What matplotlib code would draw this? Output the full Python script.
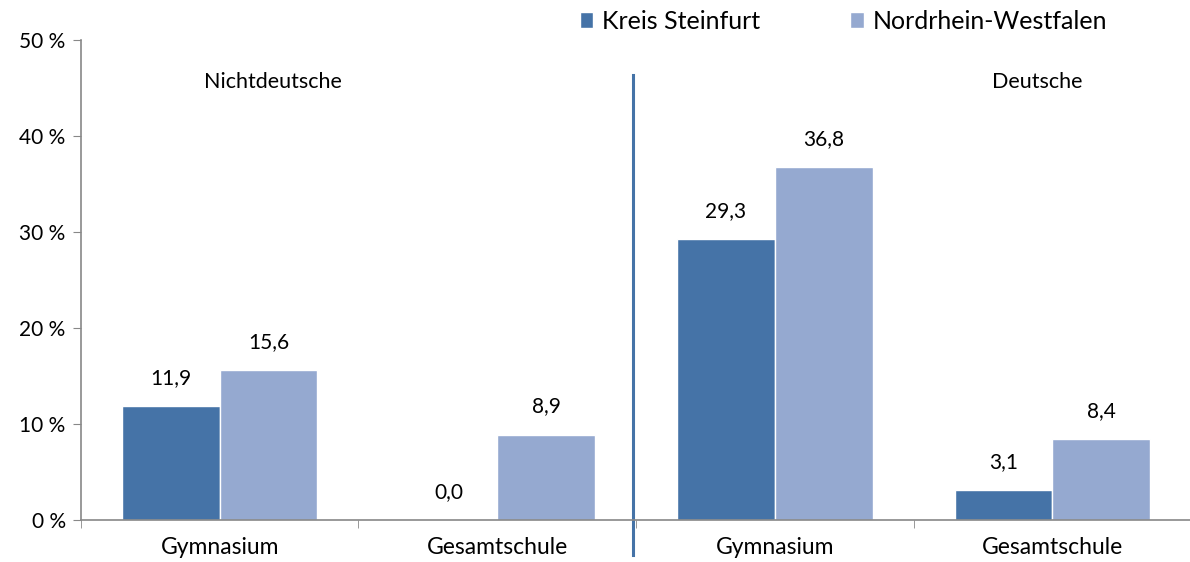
import numpy as np
import matplotlib.pyplot as plt
from matplotlib.lines import Line2D

plt.rcParams['font.family'] = ['Lato', 'DejaVu Sans']

categories = ['Gymnasium', 'Gesamtschule', 'Gymnasium', 'Gesamtschule']
kreis = [11.9, 0.0, 29.3, 3.1]
nrw = [15.6, 8.9, 36.8, 8.4]
series_names = ['Kreis Steinfurt', 'Nordrhein-Westfalen']
groups = ['Nichtdeutsche', 'Deutsche']
yticks = [0, 10, 20, 30, 40, 50]

c_dark = '#4573A7'
c_light = '#95A9D0'

fig = plt.figure(figsize=(11.9, 5.62), dpi=100)
ax = fig.add_axes([0.068, 0.0747, 0.933, 0.8541])

x = np.arange(len(categories))
w = 0.352
b1 = ax.bar(x - w / 2, kreis, w, color=c_dark, edgecolor='white', linewidth=1)
b2 = ax.bar(x + w / 2, nrw, w, color=c_light, edgecolor='white', linewidth=1)

for bars, vals in [(b1, kreis), (b2, nrw)]:
    for b, v in zip(bars, vals):
        ax.annotate(f'{v:.1f}'.replace('.', ','), (b.get_x() + b.get_width() / 2, v),
                    xytext=(0, 13), textcoords='offset points',
                    ha='center', va='bottom', fontsize=15)

ax.set_xlim(-0.5, 3.5)
ax.set_ylim(0, 50)
ax.set_yticks(yticks)
ax.set_yticklabels([f'{t} %' for t in yticks], fontsize=15)
ax.set_xticks(x)
ax.set_xticklabels(categories, fontsize=16.5)
ax.tick_params(axis='x', length=0, pad=12)
ax.tick_params(axis='y', length=6, color='#888888', pad=5)

# small ticks at the category borders
ax.set_xticks([-0.5, 0.5, 1.5, 2.5], minor=True)
ax.tick_params(axis='x', which='minor', length=6, color='#888888')

for s in ['top', 'right']:
    ax.spines[s].set_visible(False)
for s in ['left', 'bottom']:
    ax.spines[s].set_color('#888888')
    ax.spines[s].set_linewidth(1.2)

# divider between the two groups
ax.add_line(Line2D([1.49, 1.49], [46.4, -3.6], color=c_dark, linewidth=2.2, clip_on=False))

ax.text(0.19, 45.6, groups[0], ha='center', va='center', fontsize=15.5)
ax.text(2.944, 45.6, groups[1], ha='center', va='center', fontsize=15.5)

leg = fig.legend([b1, b2], series_names, loc='center left', bbox_to_anchor=(0.487, 0.962),
                 ncol=2, frameon=False, fontsize=18, handlelength=0.55, handleheight=0.55,
                 handletextpad=0.35, columnspacing=3.6, borderpad=0, borderaxespad=0)

fig.savefig('out.png', dpi=100)
